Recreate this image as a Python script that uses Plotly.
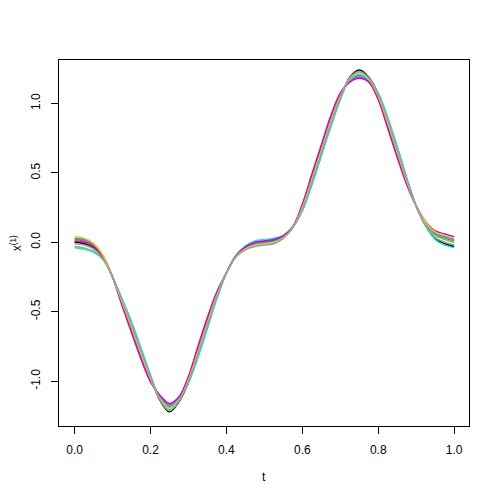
import plotly.graph_objects as go

# grid of t values (0 to 1 in steps of 0.025)
t_values = [round(i * 0.025, 3) for i in range(41)]

# derivative curves, one per colour of the R palette
curve_black = [0.000, -0.010, -0.040, -0.110, -0.250, -0.412, -0.580, -0.770, -0.962, -1.138,
               -1.220, -1.148, -1.008, -0.820, -0.610, -0.398, -0.220, -0.100, -0.040, -0.010,
               0.000, 0.010, 0.040, 0.110, 0.232, 0.420, 0.630, 0.840, 1.032, 1.188,
               1.240, 1.188, 1.068, 0.890, 0.680, 0.458, 0.260, 0.118, 0.026, -0.010, -0.030]
curve_red = [0.020, 0.010, -0.024, -0.102, -0.250, -0.442, -0.630, -0.820, -0.992, -1.108,
             -1.170, -1.118, -0.978, -0.770, -0.560, -0.368, -0.220, -0.097, -0.033, 0.000,
             0.010, 0.020, 0.046, 0.112, 0.262, 0.470, 0.680, 0.890, 1.062, 1.158,
             1.190, 1.158, 1.038, 0.840, 0.630, 0.428, 0.260, 0.134, 0.058, 0.030, 0.010]
curve_green = [-0.010, -0.020, -0.048, -0.114, -0.250, -0.424, -0.600, -0.790, -0.974, -1.132,
               -1.210, -1.142, -0.996, -0.800, -0.590, -0.386, -0.220, -0.103, -0.047, -0.020,
               -0.010, 0.000, 0.034, 0.108, 0.244, 0.440, 0.650, 0.860, 1.044, 1.182,
               1.230, 1.182, 1.056, 0.870, 0.660, 0.446, 0.260, 0.130, 0.050, 0.020, 0.000]
curve_blue = [0.030, 0.020, -0.016, -0.098, -0.250, -0.448, -0.640, -0.830, -0.998, -1.114,
              -1.180, -1.124, -0.972, -0.760, -0.550, -0.362, -0.220, -0.100, -0.040, -0.010,
              0.000, 0.010, 0.040, 0.110, 0.268, 0.480, 0.690, 0.900, 1.068, 1.164,
              1.200, 1.164, 1.032, 0.830, 0.620, 0.422, 0.260, 0.138, 0.066, 0.040, 0.020]
curve_cyan = [-0.040, -0.050, -0.072, -0.126, -0.250, -0.406, -0.570, -0.760, -0.956, -1.120,
              -1.190, -1.130, -1.014, -0.830, -0.620, -0.404, -0.220, -0.094, -0.026, 0.010,
              0.020, 0.030, 0.052, 0.114, 0.226, 0.410, 0.620, 0.830, 1.026, 1.170,
              1.210, 1.170, 1.074, 0.900, 0.690, 0.464, 0.260, 0.114, 0.018, -0.020, -0.040]
curve_magenta = [0.010, 0.000, -0.032, -0.106, -0.250, -0.454, -0.650, -0.840, -1.004, -1.102,
                 -1.160, -1.112, -0.966, -0.750, -0.540, -0.356, -0.220, -0.097, -0.033, 0.000,
                 0.010, 0.020, 0.046, 0.112, 0.274, 0.490, 0.700, 0.910, 1.074, 1.152,
                 1.180, 1.152, 1.026, 0.820, 0.610, 0.416, 0.260, 0.146, 0.082, 0.060, 0.040]
curve_yellow = [0.040, 0.030, -0.008, -0.094, -0.250, -0.430, -0.610, -0.800, -0.980, -1.126,
                -1.200, -1.136, -0.990, -0.790, -0.580, -0.380, -0.220, -0.103, -0.047, -0.020,
                -0.010, 0.000, 0.034, 0.108, 0.250, 0.450, 0.660, 0.870, 1.050, 1.176,
                1.220, 1.176, 1.050, 0.860, 0.650, 0.440, 0.260, 0.142, 0.074, 0.050, 0.030]
curve_gray = [-0.030, -0.040, -0.064, -0.122, -0.250, -0.418, -0.590, -0.780, -0.968, -1.132,
              -1.210, -1.142, -1.002, -0.810, -0.600, -0.392, -0.220, -0.106, -0.054, -0.030,
              -0.020, -0.010, 0.028, 0.106, 0.238, 0.430, 0.640, 0.850, 1.038, 1.182,
              1.230, 1.182, 1.062, 0.880, 0.670, 0.452, 0.260, 0.122, 0.034, 0.000, -0.020]

curves = [curve_black, curve_red, curve_green, curve_blue,
          curve_cyan, curve_magenta, curve_yellow, curve_gray]

x_ticks = [0.0, 0.2, 0.4, 0.6, 0.8, 1.0]
y_ticks = [-1.0, -0.5, 0.0, 0.5, 1.0]

# R 4.x default palette
PALETTE = ['#000000', '#DF536B', '#61D04F', '#2297E6',
           '#28E2E5', '#CD0BBC', '#F5C710', '#9E9E9E']

FONT = 'Liberation Sans, Arial, sans-serif'

fig = go.Figure()
for i, ys in enumerate(curves):
    fig.add_trace(go.Scatter(
        x=t_values,
        y=ys,
        mode='lines',
        line=dict(color=PALETTE[i % len(PALETTE)], width=1.5, shape='spline'),
        showlegend=False,
        hoverinfo='skip'
    ))

axis_common = dict(
    showgrid=False,
    zeroline=False,
    showline=True,
    linecolor='black',
    linewidth=1,
    mirror=True,
    ticks='outside',
    ticklen=7,
    tickwidth=1,
    tickcolor='black',
    automargin=False,
    tickfont=dict(family=FONT, size=12, color='black'),
)

fig.update_xaxes(
    range=[-0.041, 1.039],
    tickvals=x_ticks,
    ticktext=['%.1f' % v for v in x_ticks],
    ticklabelstandoff=6,
    **axis_common
)
fig.update_yaxes(
    range=[-1.322, 1.312],
    tickvals=y_ticks,
    ticktext=['%.1f' % v for v in y_ticks],
    tickangle=-90,
    ticklabelstandoff=6,
    **axis_common
)

fig.add_annotation(
    text='t', xref='paper', yref='paper', x=0.5, y=-0.139,
    showarrow=False, font=dict(family=FONT, size=12, color='black'),
    xanchor='center', yanchor='middle'
)
fig.add_annotation(
    text='x<sup>(1)</sup>', xref='paper', yref='paper', x=-0.104, y=0.5,
    showarrow=False, textangle=-90, font=dict(family=FONT, size=12, color='black'),
    xanchor='center', yanchor='middle'
)

# the page body adds an 8px offset, so margins are shifted to compensate
fig.update_layout(
    width=500,
    height=500,
    margin=dict(l=51, r=39, t=52, b=82),
    plot_bgcolor='white',
    paper_bgcolor='white',
)

fig.write_html("out.html")
